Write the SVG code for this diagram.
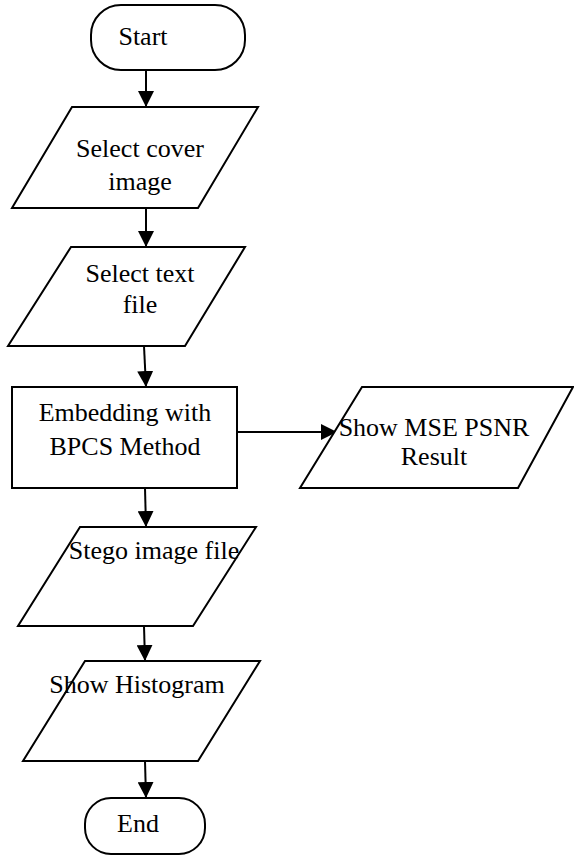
<svg xmlns="http://www.w3.org/2000/svg" width="574" height="856" viewBox="0 0 574 856">
  <style>
    .shape { fill: #ffffff; stroke: #000000; stroke-width: 2; }
    .label { font-family: "Liberation Serif", "Times New Roman", serif; font-size: 26px; fill: #000000; text-anchor: middle; }
    .flow { stroke: #000000; stroke-width: 2; fill: none; marker-end: url(#arrow); }
  </style>
  <defs>
    <marker id="arrow" markerWidth="16" markerHeight="16" refX="16" refY="8" orient="auto" markerUnits="userSpaceOnUse">
      <path d="M0,0 L16,8 L0,16 Z" fill="#000000"/>
    </marker>
  </defs>
  <rect width="574" height="856" fill="#ffffff"/>

  <g id="connectors">
    <line class="flow" x1="146" y1="70" x2="146" y2="107"/>
    <line class="flow" x1="146" y1="208" x2="146" y2="247"/>
    <line class="flow" x1="144" y1="346" x2="146" y2="387"/>
    <line class="flow" x1="237" y1="432" x2="337" y2="432"/>
    <line class="flow" x1="145" y1="488" x2="146" y2="527"/>
    <line class="flow" x1="144" y1="626" x2="145" y2="661"/>
    <line class="flow" x1="145" y1="761" x2="146" y2="798"/>
  </g>

  <g id="start">
    <rect class="shape" x="91" y="5" width="154" height="65" rx="30" ry="30"/>
    <text class="label" x="143" y="45">Start</text>
  </g>

  <g id="select-cover">
    <polygon class="shape" points="72,107 258,107 198,208 12,208"/>
    <text class="label" x="140" y="157">Select cover</text>
    <text class="label" x="140" y="190">image</text>
  </g>

  <g id="select-text">
    <polygon class="shape" points="71,247 245,247 185,346 8,346"/>
    <text class="label" x="140" y="282">Select text</text>
    <text class="label" x="140" y="313">file</text>
  </g>

  <g id="embedding">
    <rect class="shape" x="12" y="387" width="225" height="101"/>
    <text class="label" x="125" y="421">Embedding with</text>
    <text class="label" x="125" y="455">BPCS Method</text>
  </g>

  <g id="show-mse-psnr">
    <polygon class="shape" points="362,387 573,387 518,488 300,488"/>
    <text class="label" x="434" y="436">Show MSE PSNR</text>
    <text class="label" x="434" y="465">Result</text>
  </g>

  <g id="stego-image">
    <polygon class="shape" points="80,527 256,527 193,626 18,626"/>
    <text class="label" x="154" y="559">Stego image file</text>
  </g>

  <g id="show-histogram">
    <polygon class="shape" points="85,661 260,661 198,761 23,761"/>
    <text class="label" x="137" y="693">Show Histogram</text>
  </g>

  <g id="end">
    <rect class="shape" x="85" y="798" width="120" height="56" rx="26" ry="26"/>
    <text class="label" x="138" y="832">End</text>
  </g>
</svg>
